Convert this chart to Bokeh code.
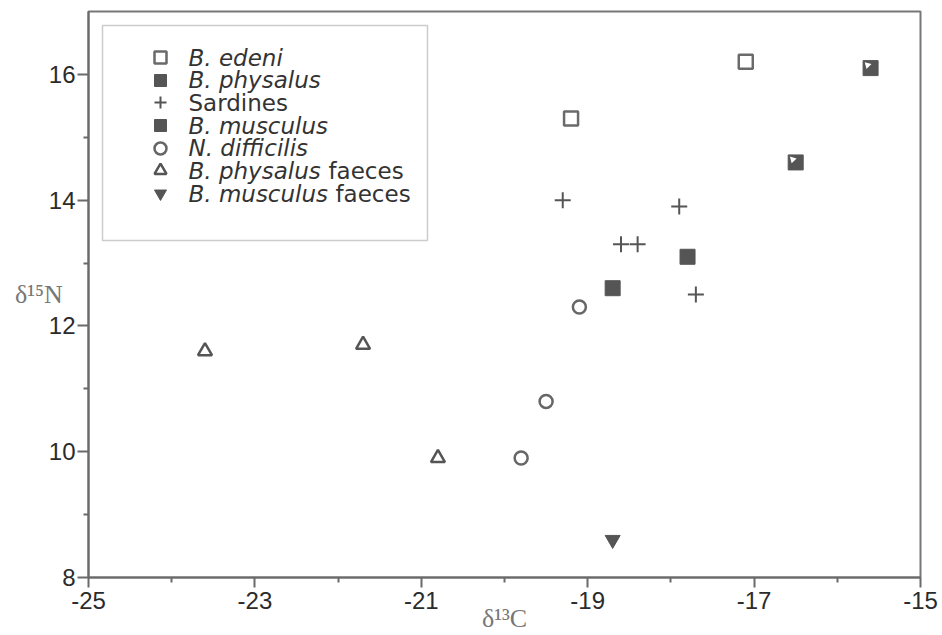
from bokeh.plotting import figure
from bokeh.models import (Range1d, FixedTicker, Legend, LegendItem,
                          Label, BoxAnnotation)
from bokeh.embed import file_html
from bokeh.resources import INLINE

# ---------------- data (δ13C, δ15N) ----------------
edeni_c = [-19.2, -17.1]
edeni_n = [15.3, 16.2]
physalus_c = [-15.6, -16.5]
physalus_n = [16.1, 14.6]
sardines_c = [-19.3, -17.9, -18.6, -18.4, -17.7]
sardines_n = [14.0, 13.9, 13.3, 13.3, 12.5]
musculus_c = [-17.8, -18.7]
musculus_n = [13.1, 12.6]
difficilis_c = [-19.1, -19.5, -19.8]
difficilis_n = [12.3, 10.8, 9.9]
phys_faeces_c = [-23.6, -21.7, -20.8]
phys_faeces_n = [11.6, 11.7, 9.9]
musc_faeces_c = [-18.7]
musc_faeces_n = [8.6]

x_major_ticks = [-25, -23, -21, -19, -17, -15]
x_minor_ticks = [-24, -22, -20, -18, -16]
y_major_ticks = [8, 10, 12, 14, 16]
y_minor_ticks = [9, 11, 13, 15]
x_tick_labels = ["-25", "-23", "-21", "-19", "-17", "-15"]
y_tick_labels = ["8", "10", "12", "14", "16"]

# ---------------- figure ----------------
X0, X1, Y0, Y1 = -25, -15, 8, 17
W, H = 942, 635
FL, FR, FT, FB = 88, 920, 11, 577   # frame edges (px)
p = figure(width=W, height=H, x_range=Range1d(X0, X1), y_range=Range1d(Y0, Y1),
           output_backend="svg", toolbar_location=None,
           min_border_left=FL, min_border_right=W - FR, min_border_top=FT,
           min_border_bottom=H - FB)

def px_x(px):
    return X0 + (px - FL) * (X1 - X0) / (FR - FL)
def px_y(py):
    return Y0 + (FB - py) * (Y1 - Y0) / (FB - FT)

p.xgrid.visible = False
p.ygrid.visible = False
p.outline_line_color = "#777777"
p.outline_line_width = 2
p.background_fill_color = "white"
p.border_fill_color = "white"

for ax, tick_out in ((p.xaxis, 10), (p.yaxis, 11)):
    ax.axis_line_color = "#6a6a6a"
    ax.axis_line_width = 2
    ax.major_tick_line_color = "#6a6a6a"
    ax.minor_tick_line_color = "#6a6a6a"
    ax.major_tick_line_width = 2
    ax.minor_tick_line_width = 2
    ax.major_tick_in = 0
    ax.major_tick_out = tick_out
    ax.minor_tick_in = 0
    ax.minor_tick_out = 5
    ax.major_label_text_font = "Liberation Sans"
    ax.major_label_text_font_size = "24px"
    ax.major_label_text_color = "#2b2b2b"
    ax.axis_label_text_font = "Liberation Serif"
    ax.axis_label_text_font_style = "normal"
    ax.axis_label_text_color = "#777777"
    ax.axis_label_text_font_size = "26px"

p.xaxis.ticker = FixedTicker(ticks=x_major_ticks, minor_ticks=x_minor_ticks)
p.yaxis.ticker = FixedTicker(ticks=y_major_ticks, minor_ticks=y_minor_ticks)
p.xaxis.major_label_overrides = {float(v): s for v, s in zip(x_major_ticks, x_tick_labels)}
p.yaxis.major_label_overrides = {float(v): s for v, s in zip(y_major_ticks, y_tick_labels)}
p.xaxis.major_label_standoff = 4
p.yaxis.major_label_standoff = 2

p.xaxis.axis_label = "δ¹³C"
p.xaxis.axis_label_standoff = -8
p.yaxis.axis_label = "δ¹⁵N"
p.yaxis.axis_label_orientation = "horizontal"
p.yaxis.axis_label_standoff = -17

# ---------------- glyphs ----------------
r_edeni = p.scatter(edeni_c, edeni_n, marker="square", size=14, fill_color="white",
                    line_color="#6a6a6a", line_width=2.5)
r_phys = p.scatter(physalus_c, physalus_n, marker="square", size=15, fill_color="#555555",
                   line_color="#555555", line_width=1)
dx = 3 * (X1 - X0) / (FR - FL)
dy = 3 * (Y1 - Y0) / (FB - FT)
r_phys_notch = p.scatter([c - dx for c in physalus_c], [n + dy for n in physalus_n],
                         marker="triangle", size=7, angle=0.785, fill_color="white",
                         line_color=None)
r_sard = p.scatter(sardines_c, sardines_n, marker="cross", size=16, line_color="#555555",
                   line_width=2)
r_musc = p.scatter(musculus_c, musculus_n, marker="square", size=15, fill_color="#555555",
                   line_color="#555555")
r_diff = p.scatter(difficilis_c, difficilis_n, marker="circle", size=13, fill_color="white",
                   line_color="#666666", line_width=2.5)
r_pf = p.scatter(phys_faeces_c, phys_faeces_n, marker="triangle", size=14, fill_color="white",
                 line_color="#555555", line_width=2.5)
r_mf = p.scatter(musc_faeces_c, musc_faeces_n, marker="inverted_triangle", size=15,
                 fill_color="#555555", line_color="#555555")

# ---------------- legend ----------------
legend_rows = [
    (r_edeni, [("B. edeni", "italic", 188)]),
    (r_phys, [("B. physalus", "italic", 188)]),
    (r_sard, [("Sardines", "normal", 188)]),
    (r_musc, [("B. musculus", "italic", 188)]),
    (r_diff, [("N. difficilis", "italic", 188)]),
    (r_pf, [("B. physalus", "italic", 188), ("faeces", "normal", 328)]),
    (r_mf, [("B. musculus", "italic", 188), ("faeces", "normal", 335)]),
]
G = 30  # legend glyph box (px)
for i, (rend, parts) in enumerate(legend_rows):
    yc = 57 + 22.67 * i
    lg = Legend(items=[LegendItem(label=" ", renderers=[rend])],
                location=(160 - FL - G // 2, int(round(FB - yc - G / 2))),
                padding=0, margin=0, spacing=0, glyph_width=G, glyph_height=G,
                label_height=G, label_width=0, label_standoff=0,
                label_text_font_size="1px", border_line_color=None,
                background_fill_alpha=0)
    p.add_layout(lg)
    for txt, style, xpx in parts:
        p.add_layout(Label(x=px_x(xpx), y=px_y(yc), text=txt, text_font="DejaVu Sans",
                           text_font_size="23px", text_font_style=style,
                           text_color="#333333", text_baseline="middle", text_align="left"))

p.add_layout(BoxAnnotation(left=px_x(102), right=px_x(427), top=px_y(25), bottom=px_y(240),
                           fill_color=None, line_color="#555555", line_width=1.5))

open("out.html", "w").write(file_html(p, INLINE))
